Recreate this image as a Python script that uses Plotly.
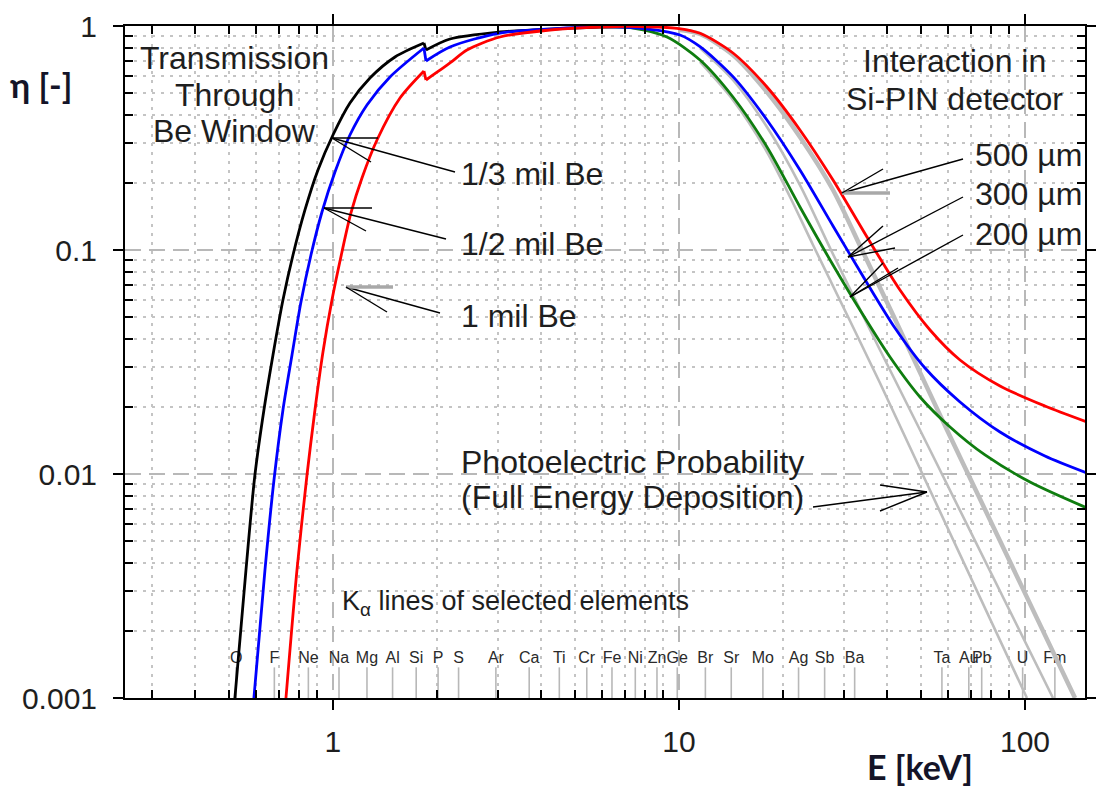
import plotly.graph_objects as go

# ---------------- data ----------------
# 1/3 mil Be window (black): below / above the Si K edge
BLACK_E_LO = [0.5207, 0.5605, 0.5949, 0.6317, 0.6709, 0.7169, 0.7665, 0.8300, 0.9051, 1.0, 1.1197, 1.2793, 1.5109, 1.8323]
BLACK_ETA_LO = [0.001, 0.003727, 0.0099, 0.01931, 0.03398, 0.05979, 0.09499, 0.1509, 0.2276, 0.3261, 0.4531, 0.5860, 0.7274, 0.8396]
BLACK_E_HI = [1.857, 2.179, 3.039, 3.784, 5.912, 7.716]
BLACK_ETA_HI = [0.7814, 0.8748, 0.9401, 0.9597, 0.9897, 0.9949]

# 1/2 mil Be window / 300 um detector (blue)
BLUE_E_LO = [0.5909, 0.6360, 0.6754, 0.7169, 0.7614, 0.8082, 0.8638, 0.9295, 1.0134, 1.1197, 1.2540, 1.4614, 1.8323]
BLUE_ETA_LO = [0.001, 0.003727, 0.0094, 0.01931, 0.03398, 0.05858, 0.09499, 0.1478, 0.2229, 0.3261, 0.4439, 0.5921, 0.7977]
BLUE_E_HI = [1.857, 2.179, 3.039, 4.747, 5.912, 8.247, 10.067, 11.501, 14.324, 17.96, 22.37, 27.87, 34.95, 42.10,
             51.40, 64.89, 84.68, 114.2, 151.1]
BLUE_ETA_HI = [0.6980, 0.8059, 0.9305, 0.9796, 0.9929, 0.9667, 0.9117, 0.8085, 0.5940, 0.3805, 0.2276, 0.1280,
               0.07124, 0.04485, 0.02972, 0.02097, 0.01540, 0.01203, 0.01010]

# 1 mil Be window / 500 um detector (red)
RED_E_LO = [0.7314, 0.7870, 0.8413, 0.8870, 0.9357, 0.9934, 1.0617, 1.1272, 1.2130, 1.3405, 1.5621, 1.8323]
RED_ETA_LO = [0.001, 0.003727, 0.0099, 0.01931, 0.03504, 0.05979, 0.09797, 0.1463, 0.2096, 0.3098, 0.4770, 0.6297]
RED_E_HI = [1.857, 2.179, 2.439, 3.039, 4.239, 5.912, 7.716, 9.868, 11.501, 14.324, 17.96, 22.37, 27.87, 34.95,
            43.52, 53.15, 64.89, 84.68, 114.2, 151.1]
RED_ETA_HI = [0.5741, 0.6838, 0.7814, 0.8932, 0.9597, 0.9897, 0.9949, 0.9766, 0.9277, 0.7577, 0.5341, 0.3434,
              0.2053, 0.1143, 0.06628, 0.04394, 0.03228, 0.02471, 0.02012, 0.01707]

# 200 um detector (green)
GREEN_E = [5.912, 7.362, 9.233, 11.501, 14.324, 17.96, 22.37, 27.87, 33.36, 40.72, 49.72, 60.72, 76.63, 103.4, 151.1]
GREEN_ETA = [0.9929, 0.9796, 0.8932, 0.7052, 0.4820, 0.2884, 0.1556, 0.08570, 0.05396, 0.03329, 0.02207, 0.01621,
             0.01216, 0.00921, 0.00705]

# photoelectric-only probability (gray)
PHOTO200_E = [11.501, 14.324, 17.96, 20.94, 24.40, 38.10, 101.3]
PHOTO200_ETA = [0.6908, 0.4673, 0.2738, 0.1725, 0.1053, 0.02548, 0.001]
PHOTO300_E = [11.501, 14.324, 17.96, 22.37, 27.50, 38.10, 53.15, 120.5]
PHOTO300_ETA = [0.7977, 0.5741, 0.3540, 0.1950, 0.1, 0.03577, 0.01280, 0.001]
PHOTO500_E = [10.067, 11.501, 14.324, 17.96, 22.37, 27.87, 33.81, 41.82, 59.53, 139.5]
PHOTO500_ETA = [0.9597, 0.9210, 0.7425, 0.5073, 0.3195, 0.1853, 0.1, 0.05022, 0.01572, 0.001]

ELEMENTS = ["O", "F", "Ne", "Na", "Mg", "Al", "Si", "P", "S", "Ar", "Ca", "Ti", "Cr", "Fe", "Ni", "Zn",
            "Ge", "Br", "Sr", "Mo", "Ag", "Sb", "Ba", "Ta", "Au", "Pb", "U", "Fm"]
KALPHA_E = [0.525, 0.677, 0.849, 1.041, 1.254, 1.487, 1.740, 2.013, 2.307, 2.957, 3.691, 4.510, 5.414, 6.403,
            7.477, 8.638, 9.886, 11.92, 14.16, 17.48, 22.16, 26.36, 32.19, 57.53, 68.80, 74.97, 98.44, 122.0]
KLINE_BOTTOM = 0.001
KLINE_TOP = 0.00137
KLABEL_Y = 0.00149

X_TICKS = [1, 10, 100]
X_TICKTEXT = ["1", "10", "100"]
Y_TICKS = [0.001, 0.01, 0.1, 1]
Y_TICKTEXT = ["0.001", "0.01", "0.1", "1"]

# ---------------- layout geometry ----------------
W, H = 1096, 787
L, R, T, B = 125, 11, 26, 89
PW, PH = W - L - R, H - T - B
XR = [-0.601, 2.1734]
YR = [-3.0, 0.0]
FONT = "Liberation Sans, Arial, sans-serif"
TXT = "#1e1e1e"
GRAY = "#bdbdbd"


def px_x(px):  # reference pixel -> paper
    return (px - L) / PW


def px_y(py):
    return (H - B - py) / PH


fig = go.Figure()

# K-alpha marker lines
kx, ky = [], []
for e in KALPHA_E:
    kx += [e, e, None]
    ky += [KLINE_BOTTOM, KLINE_TOP, None]
fig.add_trace(go.Scatter(x=kx, y=ky, mode="lines", line=dict(color="#b8b8b8", width=1.6), hoverinfo="skip"))
fig.add_trace(go.Scatter(x=KALPHA_E, y=[KLABEL_Y] * len(KALPHA_E), mode="text", text=ELEMENTS,
                         textposition="middle center", textfont=dict(family=FONT, size=16, color="#2a2a2a"),
                         hoverinfo="skip"))


def smooth(x, y, color, width):
    fig.add_trace(go.Scatter(x=x, y=y, mode="lines", line=dict(color=color, width=width, shape="spline",
                                                               smoothing=0.8), hoverinfo="skip"))


def edge_curve(xlo, ylo, xhi, yhi, color, width=2.8):
    smooth(xlo, ylo, color, width)
    fig.add_trace(go.Scatter(x=[xlo[-1], xhi[0]], y=[ylo[-1], yhi[0]], mode="lines",
                             line=dict(color=color, width=width), hoverinfo="skip"))
    smooth(xhi, yhi, color, width)


# gray photoelectric curves
smooth(PHOTO200_E, PHOTO200_ETA, GRAY, 2.6)
smooth(PHOTO300_E, PHOTO300_ETA, GRAY, 2.6)
smooth(PHOTO500_E, PHOTO500_ETA, GRAY, 4.5)

# colored efficiency curves
smooth(GREEN_E, GREEN_ETA, "#0f7d0f", 2.8)
edge_curve(BLACK_E_LO, BLACK_ETA_LO, BLACK_E_HI, BLACK_ETA_HI, "#000000")
edge_curve(BLUE_E_LO, BLUE_ETA_LO, BLUE_E_HI, BLUE_ETA_HI, "#0000ff")
edge_curve(RED_E_LO, RED_ETA_LO, RED_E_HI, RED_ETA_HI, "#ff0000")

# ---------------- annotations (text) ----------------
ann = []


def text(s, px, py, size=32, anchor="center", color=TXT, family=FONT):
    ann.append(dict(text=s, x=px_x(px), y=px_y(py), xref="paper", yref="paper", showarrow=False,
                    xanchor=anchor, yanchor="middle",
                    font=dict(family=family, size=size, color=color)))


text("Transmission", 234, 58)
text("Through", 234, 95)
text("Be Window", 234, 131)
text("1/3 mil Be", 459, 174, anchor="left")
text("1/2 mil Be", 459, 244, anchor="left")
text("1 mil Be", 459, 316, anchor="left")
text("Interaction in", 954, 61)
text("Si-PIN detector", 954, 99)
text("500 µm", 1084, 155, anchor="right")
text("300 µm", 1084, 194, anchor="right")
text("200 µm", 1084, 234, anchor="right")
text("Photoelectric Probability", 459, 462, anchor="left")
text("(Full Energy Deposition)", 459, 497, anchor="left")
text("K<sub>α</sub> lines of selected elements", 340, 603, size=27, anchor="left")
text("<b>E [keV]</b>", 920, 766, size=34, color="#141428", family="Lato, sans-serif")
text("<b>η [-]</b>", 41, 84, size=34, color="#141428", family="Lato, sans-serif")

# ---------------- arrows (thin lines, open heads) ----------------
shapes = []


def seg(p0, p1, color="black", width=1.4):
    shapes.append(dict(type="line", xref="paper", yref="paper",
                       x0=px_x(p0[0]), y0=px_y(p0[1]), x1=px_x(p1[0]), y1=px_y(p1[1]),
                       line=dict(color=color, width=width)))


def arrow(tip, tail, barb1, barb2, c1="black", w1=1.4):
    seg(tail, tip)
    seg(tip, barb1, c1, w1)
    seg(tip, barb2)


arrow((332, 138), (455, 172), (378, 138), (371, 162), "black", 1.6)
arrow((324, 208), (446, 239), (372, 208), (366, 231), "black", 1.6)
arrow((346, 287), (440, 313), (393, 287), (387, 312), "#a8a8a8", 3.5)
arrow((842, 193), (963, 159), (890, 193), (883, 169), "#a8a8a8", 3.5)
arrow((848, 257), (963, 197), (883, 226), (895, 248))
arrow((850, 297), (963, 235), (883, 263), (898, 268))
arrow((927, 492), (813, 507), (880, 485), (880, 511))

# ---------------- axes ----------------
x_minor = [m * 10 ** d for d in (-1, 0, 1, 2) for m in range(2, 10)]
y_minor = [m * 10 ** d for d in (-3, -2, -1) for m in range(2, 10)]

axis_common = dict(
    type="log", showline=True, linecolor="black", linewidth=2, mirror="allticks",
    ticks="outside", ticklen=10, tickwidth=2, tickcolor="black", automargin=False,
    showgrid=True, gridcolor="#b8b8b8", gridwidth=1.5, griddash="16px,8px",
    tickfont=dict(family=FONT, size=30, color=TXT), zeroline=False,
)

fig.update_xaxes(range=XR, tickvals=X_TICKS, ticktext=X_TICKTEXT, ticklabelstandoff=6,
                 minor=dict(tickvals=x_minor, ticks="inside", ticklen=8, tickwidth=1.5, tickcolor="black",
                            showgrid=True, gridcolor="#c4c4c4", gridwidth=1.5, griddash="3px,6px"),
                 **axis_common)
fig.update_yaxes(range=YR, tickvals=Y_TICKS, ticktext=Y_TICKTEXT, ticklabelstandoff=10,
                 minor=dict(tickvals=y_minor, ticks="inside", ticklen=8, tickwidth=1.5, tickcolor="black",
                            showgrid=True, gridcolor="#c4c4c4", gridwidth=1.5, griddash="3px,6px"),
                 **axis_common)

fig.update_layout(
    width=W, height=H, margin=dict(l=L, r=R, t=T, b=B),
    paper_bgcolor="white", plot_bgcolor="white", showlegend=False,
    annotations=ann, shapes=shapes,
)

fig.write_html("out.html")
